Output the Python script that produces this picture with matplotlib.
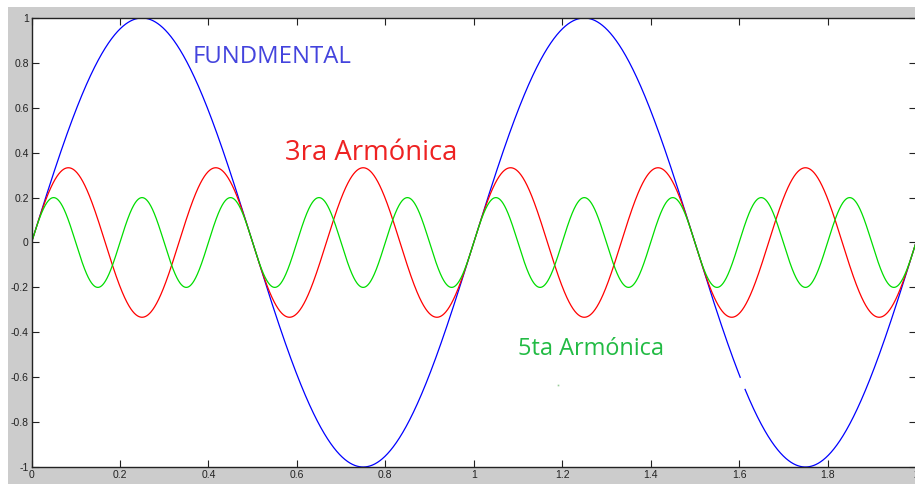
import numpy as np
import matplotlib
matplotlib.use("Agg")
import matplotlib.pyplot as plt
from matplotlib.patches import Rectangle

# ---- data ----
harmonic_orders = [1, 3, 5]
amplitudes = [1.0, 0.333, 0.2]
line_colors = ["#0000ff", "#ff0000", "#00dd00"]
labels = ["FUNDMENTAL", "3ra Armónica", "5ta Armónica"]
label_colors = ["#4444dd", "#ee2222", "#22bb44"]
label_sizes = [17.2, 19.8, 16.9]
label_pos = [(0.544, 0.826), (0.768, 0.399), (1.264, -0.474)]
x_ticks = [0, 0.2, 0.4, 0.6, 0.8, 1, 1.2, 1.4, 1.6, 1.8, 2]
x_tick_labels = ["0", "0.2", "0.4", "0.6", "0.8", "1", "1.2", "1.4", "1.6", "1.8", "2"]
y_ticks = [-1, -0.8, -0.6, -0.4, -0.2, 0, 0.2, 0.4, 0.6, 0.8, 1]
y_tick_labels = ["-1", "-0.8", "-0.6", "-0.4", "-0.2", "0", "0.2", "0.4", "0.6", "0.8", "1"]
blue_gap = (1.603, 1.613)
t = np.linspace(0, 2, 4001)

W, H = 915, 484
fig = plt.figure(figsize=(W / 100, H / 100), dpi=100)
fig.patch.set_facecolor("#cccccc")
# white screenshot margins
fig.patches.append(Rectangle((0, 1 - 7 / H), 1, 7 / H, transform=fig.transFigure,
                             facecolor="white", edgecolor="none", zorder=0))
fig.patches.append(Rectangle((0, 0), 8 / W, 1, transform=fig.transFigure,
                             facecolor="white", edgecolor="none", zorder=0))

x0, x1 = 31.5, 916.0
ytop, ybot = 18.0, 467.0
ax = fig.add_axes([x0 / W, 1 - ybot / H, (x1 - x0) / W, (ybot - ytop) / H])
ax.set_facecolor("white")

for order, amp, col in zip(harmonic_orders, amplitudes, line_colors):
    y = amp * np.sin(2 * np.pi * order * t)
    if order == 1:
        y = y.copy()
        y[(t > blue_gap[0]) & (t < blue_gap[1])] = np.nan
    ax.plot(t, y, color=col, lw=0.9, solid_capstyle="butt")

# small stray dot
ax.plot([1.191], [-0.635], marker="s", ms=1.2, color="#99cc99", mec="none")

for lab, c, sz, (px, py) in zip(labels, label_colors, label_sizes, label_pos):
    ax.text(px, py, lab, color=c, fontsize=sz, family="Open Sans",
            ha="center", va="center")

ax.set_xlim(0, 2)
ax.set_ylim(-1, 1)
ax.set_xticks(x_ticks)
ax.set_xticklabels(x_tick_labels)
ax.set_yticks(y_ticks)
ax.set_yticklabels(y_tick_labels)
ax.tick_params(direction="in", length=5, width=0.8, labelsize=7.5,
               top=True, right=True, pad=2, colors="#222222")
for s in ax.spines.values():
    s.set_linewidth(1.0)
    s.set_color("#222222")
for lbl in ax.get_xticklabels() + ax.get_yticklabels():
    lbl.set_family("Liberation Sans")

fig.savefig("out.png", dpi=100, facecolor=fig.get_facecolor())
